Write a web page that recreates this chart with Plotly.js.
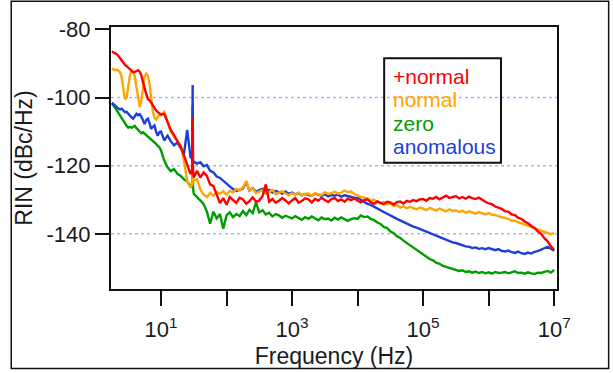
<!DOCTYPE html>
<html>
<head>
<meta charset="utf-8">
<script src="https://cdn.plot.ly/plotly-3.0.1.min.js"></script>
<style>html,body{margin:0;padding:0;background:#fff;}#chart{width:613px;height:373px;}</style>
</head>
<body>
<div id="chart"></div>
<script>
// Frequency (Hz) sample points
const freq = [
  1.78,1.88,2.00,2.11,2.24,2.37,2.51,2.66,2.82,2.99,3.16,3.35,3.55,3.76,3.98,4.22,4.47,4.73,5.01,5.31,5.62,5.96,6.31,6.68,7.08,7.50,7.94,8.41,8.91,9.44,10,
  11.2,12.6,14.1,15.8,17.8,20.0,22.4,25.1,28.2,
  30.0,30.4,30.8,
  31.6,35.5,39.8,44.7,50.1,56.2,63.1,70.8,79.4,89.1,
  100,112,126,141,158,178,200,224,251,282,316,355,398,447,501,562,631,708,794,891,
  1000,1120,1260,1410,1580,1780,2000,2240,2510,2820,3160,3550,3980,4470,5010,5620,6310,7080,7940,8910,
  1e4,1.12e4,1.26e4,1.41e4,1.58e4,1.78e4,2e4,2.24e4,2.51e4,2.82e4,3.16e4,3.55e4,3.98e4,4.47e4,5.01e4,5.62e4,6.31e4,7.08e4,7.94e4,8.91e4,
  1e5,1.12e5,1.26e5,1.41e5,1.58e5,1.78e5,2e5,2.24e5,2.51e5,2.82e5,3.16e5,3.55e5,3.98e5,4.47e5,5.01e5,5.62e5,6.31e5,7.08e5,7.94e5,8.91e5,
  1e6,1.12e6,1.26e6,1.41e6,1.58e6,1.78e6,2e6,2.24e6,2.51e6,2.82e6,3.16e6,3.55e6,3.98e6,4.47e6,5.01e6,5.62e6,6.31e6,7.08e6,7.94e6,8.91e6,
  1e7
];

// RIN (dBc/Hz) per series
const rinPlusNormal = [
  -86.5,-86.7,-87,-87.3,-87.8,-88.5,-89.2,-89.8,-90.4,-90.8,-91.3,-91.8,-92.2,-92.6,-92.5,-92.3,-92,-92.4,-93.5,-95.5,-97.5,-99,-100.5,-100.8,-101.5,-102.3,-103.2,-103.8,-104.2,-104.6,-105,
  -104.8,-107.5,-109.5,-111,-113,-114.5,-117,-119.5,-122.5,
  -121,-106,-121.5,
  -123.5,-121.5,-123.5,-122,-123,-125.5,-126,-128.5,-131,-129.5,
  -131.5,-129.2,-130.1,-130.9,-129.4,-129.9,-131.2,-130.4,-129.3,-130.6,-130.2,-128.9,-125.5,-130.6,-129.8,-130.9,-130.3,-129.5,-130.2,-131.1,
  -130.2,-129.5,-130.9,-130.4,-129.6,-129.9,-130.8,-129.7,-130.3,-129.4,-130.1,-130.7,-129.8,-129.5,-130.4,-129.9,-130.6,-129.7,-130.1,-129.6,
  -130.3,-130.8,-130.1,-129.9,-130.7,-131.2,-130.5,-130.9,-131.3,-130.6,-130.8,-131.4,-130.7,-130.5,-131.1,-130.3,-130.6,-130.1,-130.4,-129.9,
  -129.8,-130.3,-129.5,-129.7,-129.2,-129.9,-129.3,-128.8,-129.5,-129.1,-128.9,-129.6,-129.2,-129.7,-129.1,-129.5,-129.8,-129.4,-130.1,-130.6,
  -131.1,-131.3,-132,-132.3,-132.7,-133.4,-133.5,-134.3,-134.5,-135.3,-135.6,-136.4,-136.9,-137.7,-138.3,-139.3,-140,-141.3,-142.2,-143.7,
  -144.8
];
const rinNormal = [
  -91.5,-91.8,-92,-91.8,-92.3,-92.5,-94,-97,-100.5,-100,-96.5,-93.5,-92.2,-92.5,-93.8,-96.5,-99.7,-102.8,-101,-97,-93.8,-93,-93.6,-96,-100,-104,-106,-106.5,-105.8,-105,-105.2,
  -104.2,-107,-110,-111.5,-112.8,-114,-118.5,-124.5,-126.5,
  -125.5,-122,-125,
  -124.5,-124,-127,-128.5,-129.2,-128,-128.8,-127.8,-128.3,-127.5,
  -128.6,-127.4,-127.9,-126.8,-127.2,-126.4,-124.5,-127.3,-126.6,-128.1,-127.6,-127.2,-128.3,-127.7,-127.1,-128.4,-128,-127.5,-128.2,-128.7,
  -128.1,-128.5,-127.9,-128.8,-128.3,-128.2,-128.9,-128,-128.4,-128.6,-127.8,-128.3,-128.1,-127.6,-128.2,-127.9,-127.3,-127.8,-127.6,-128.3,
  -128.7,-129.2,-129.4,-129.6,-130.2,-130,-130.6,-131.1,-130.7,-131.4,-131.2,-131.8,-131.6,-132.3,-131.9,-132.5,-132.1,-132.4,-132.8,-132.3,
  -132.6,-133,-132.4,-132.9,-133.2,-132.6,-133.1,-133.4,-132.8,-133.3,-133.1,-133.6,-133.2,-133.8,-133.4,-133.7,-134.1,-133.6,-134,-134.3,
  -133.9,-134.4,-134.5,-134.9,-135.1,-135.4,-135.6,-136.1,-136.2,-136.6,-136.9,-137.3,-137.6,-138,-138.4,-138.7,-139.1,-139.4,-139.8,-140.1,
  -139.8
];
const rinZero = [
  -101.8,-102.3,-103,-103.8,-104.6,-105.3,-106.2,-107,-107.6,-108.3,-108.8,-108.6,-108.9,-108.5,-108.3,-109,-109.5,-110.2,-110.5,-110.2,-110.6,-111.2,-111.6,-112,-112.4,-112.8,-113,-113.6,-114.2,-114.6,-115.5,
  -118.5,-120.5,-121.6,-121,-122.4,-123,-124,-124.6,-125.8,
  -126,-102.6,-126.5,
  -128.2,-129.2,-130.4,-131.2,-133.5,-137,-133.5,-135.5,-134.2,-138.5,
  -134.6,-133.7,-135.1,-134.2,-134.8,-133.3,-134.5,-133,-133.9,-130.8,-133.7,-133.1,-134.3,-133.8,-134.9,-134.2,-134.6,-135.3,-134.7,-135.2,
  -135.5,-134.8,-135.3,-135.9,-135.1,-135.6,-134.9,-135.4,-136,-135.2,-135.7,-135.5,-136.1,-135.3,-135.8,-135.2,-135.6,-136.2,-135.7,-135.4,
  -135.6,-134.6,-135.1,-134.9,-135.6,-136,-136.7,-137.1,-138,-138.3,-139.3,-139.8,-140.7,-141.2,-142,-142.7,-143.4,-144,-144.8,-145.5,
  -146.1,-146.7,-147.4,-147.8,-148.5,-148.8,-149.4,-149.7,-150,-150.4,-150.5,-150.9,-150.7,-151.2,-151,-151.4,-151.1,-151.5,-151.2,-151.6,
  -151.3,-151.7,-151.2,-151.5,-151.4,-151.2,-151.6,-151.3,-151,-151.5,-151.4,-151.7,-151.3,-151.6,-151.8,-151.4,-151.5,-151.2,-150.9,-151.4,
  -150.6
];
const rinAnomalous = [
  -101.5,-102,-102.3,-102.8,-103.2,-103.5,-103.3,-103.8,-104.3,-104.2,-104.8,-105.3,-105.8,-106.2,-105.5,-104.8,-105.2,-104.9,-105.6,-107,-107.8,-106.6,-106.2,-107.5,-109.2,-108.6,-108.2,-110,-111.2,-110.2,-110,
  -112.6,-111.2,-112.8,-114,-113.2,-115,-116.5,-109.5,-117.5,
  -118,-96.3,-118.5,
  -118.8,-119.4,-119,-120.2,-119.8,-121.5,-122,-123.2,-123.6,-124.5,
  -125.2,-126.1,-126.9,-127.4,-127.1,-126.7,-124.8,-127.3,-126.6,-127.7,-127.2,-126.8,-127.5,-127.1,-127.9,-127.4,-127.8,-128.2,-127.6,-128.3,
  -127.9,-128.4,-128.1,-128.7,-128.3,-128.5,-128.9,-128.2,-128.6,-128.8,-128.4,-129,-128.6,-128.8,-128.5,-129.1,-128.7,-129,-129.2,-129.4,
  -129.5,-130.1,-130.6,-131.2,-131.5,-132.1,-132.6,-133.2,-133.6,-134.1,-134.7,-135.1,-135.6,-136.1,-136.5,-137,-137.4,-137.9,-138.2,-138.6,
  -138.9,-139.4,-139.7,-140.2,-140.5,-140.9,-141.3,-141.7,-142,-142.5,-142.7,-143.1,-143.4,-143.7,-143.8,-144.2,-144,-144.4,-144.2,-144.5,
  -144.2,-144.6,-144.8,-144.5,-145,-145.2,-144.9,-145.4,-145.6,-145.2,-145.7,-145.9,-145.5,-145.8,-145.3,-145.1,-144.6,-144.2,-143.8,-144.4,
  -145
];

const seriesNames = ['+normal', 'normal', 'zero', 'anomalous'];
const seriesColors = ['#ff0000', '#ffa500', '#009c00', '#1c3fd8'];
const xTickVals = [10, 1e3, 1e5, 1e7];
const xTickText = ['10<sup>1</sup>', '10<sup>3</sup>', '10<sup>5</sup>', '10<sup>7</sup>'];
const xMinorTickVals = [100, 1e4, 1e6];
const yTickVals = [-80, -100, -120, -140];
const yTickText = ['-80', '-100', '-120', '-140'];
const gridVals = [-100, -120, -140];

const seriesData = [rinPlusNormal, rinNormal, rinZero, rinAnomalous];
const drawOrder = [2, 3, 1, 0];
const traces = drawOrder.map(i => ({
  type: 'scatter', mode: 'lines', name: seriesNames[i],
  x: freq, y: seriesData[i],
  line: {color: seriesColors[i], width: 2.4},
  hoverinfo: 'skip'
}));

const FONT = '"Liberation Sans", Arial, Helvetica, sans-serif';
const shapes = gridVals.map(v => ({
  type: 'line', xref: 'paper', yref: 'y', x0: 0, x1: 1, y0: v, y1: v,
  line: {color: '#b0b4ff', width: 1.5, dash: 'dot'}, layer: 'below'
}));
// legend box
shapes.push({type: 'rect', xref: 'paper', yref: 'paper', x0: 0.6125, x1: 0.8744, y0: 0.4815, y1: 0.8807,
  line: {color: '#111', width: 2}, fillcolor: 'rgba(255,255,255,0)'});
// outer frame
shapes.push({type: 'rect', xref: 'paper', yref: 'paper', x0: -0.2237, x1: 1.1158, y0: -0.3039, y1: 1.098,
  line: {color: '#111', width: 1.5}, fillcolor: 'rgba(0,0,0,0)'});

const legendY = [0.8105, 0.7216, 0.6326, 0.5435];
const annotations = seriesNames.map((n, i) => ({
  xref: 'paper', yref: 'paper', x: 0.627, y: legendY[i], xanchor: 'left', yanchor: 'middle',
  text: n, showarrow: false, font: {family: FONT, size: 21, color: seriesColors[i]}
}));

const tickStyle = {ticks: 'outside', ticklen: 15, tickwidth: 2, tickcolor: '#111'};

const layout = {
  width: 613, height: 373,
  margin: {l: 111, r: 56, t: 27, b: 84, pad: 0},
  paper_bgcolor: '#ffffff', plot_bgcolor: '#ffffff',
  showlegend: false,
  font: {family: FONT, color: '#1a1a1a', size: 22},
  xaxis: {
    type: 'log', range: [0.237, 7.043], autorange: false,
    tickmode: 'array', tickvals: xTickVals, ticktext: xTickText,
    ticks: 'outside', ticklen: 15, tickwidth: 2, tickcolor: '#111',
    minor: Object.assign({tickmode: 'array', tickvals: xMinorTickVals, showgrid: false}, tickStyle),
    ticklabelstandoff: 5,
    showline: true, linewidth: 2, linecolor: '#111', mirror: true,
    showgrid: false, zeroline: false,
    tickfont: {family: FONT, size: 22, color: '#1a1a1a'},
    title: {text: 'Frequency (Hz)', font: {family: FONT, size: 23, color: '#1a1a1a'}, standoff: 6}
  },
  yaxis: {
    range: [-156.2, -79.3], autorange: false,
    tickmode: 'array', tickvals: yTickVals, ticktext: yTickText,
    ticks: 'outside', ticklen: 14, tickwidth: 2, tickcolor: '#111',
    showline: true, linewidth: 2, linecolor: '#111', mirror: true,
    showgrid: false, zeroline: false,
    tickfont: {family: FONT, size: 22, color: '#1a1a1a'},
    title: {text: 'RIN (dBc/Hz)', font: {family: FONT, size: 23, color: '#1a1a1a'}, standoff: 8}
  },
  shapes: shapes,
  annotations: annotations
};

Plotly.newPlot('chart', traces, layout, {displayModeBar: false, staticPlot: true});
</script>
</body>
</html>
